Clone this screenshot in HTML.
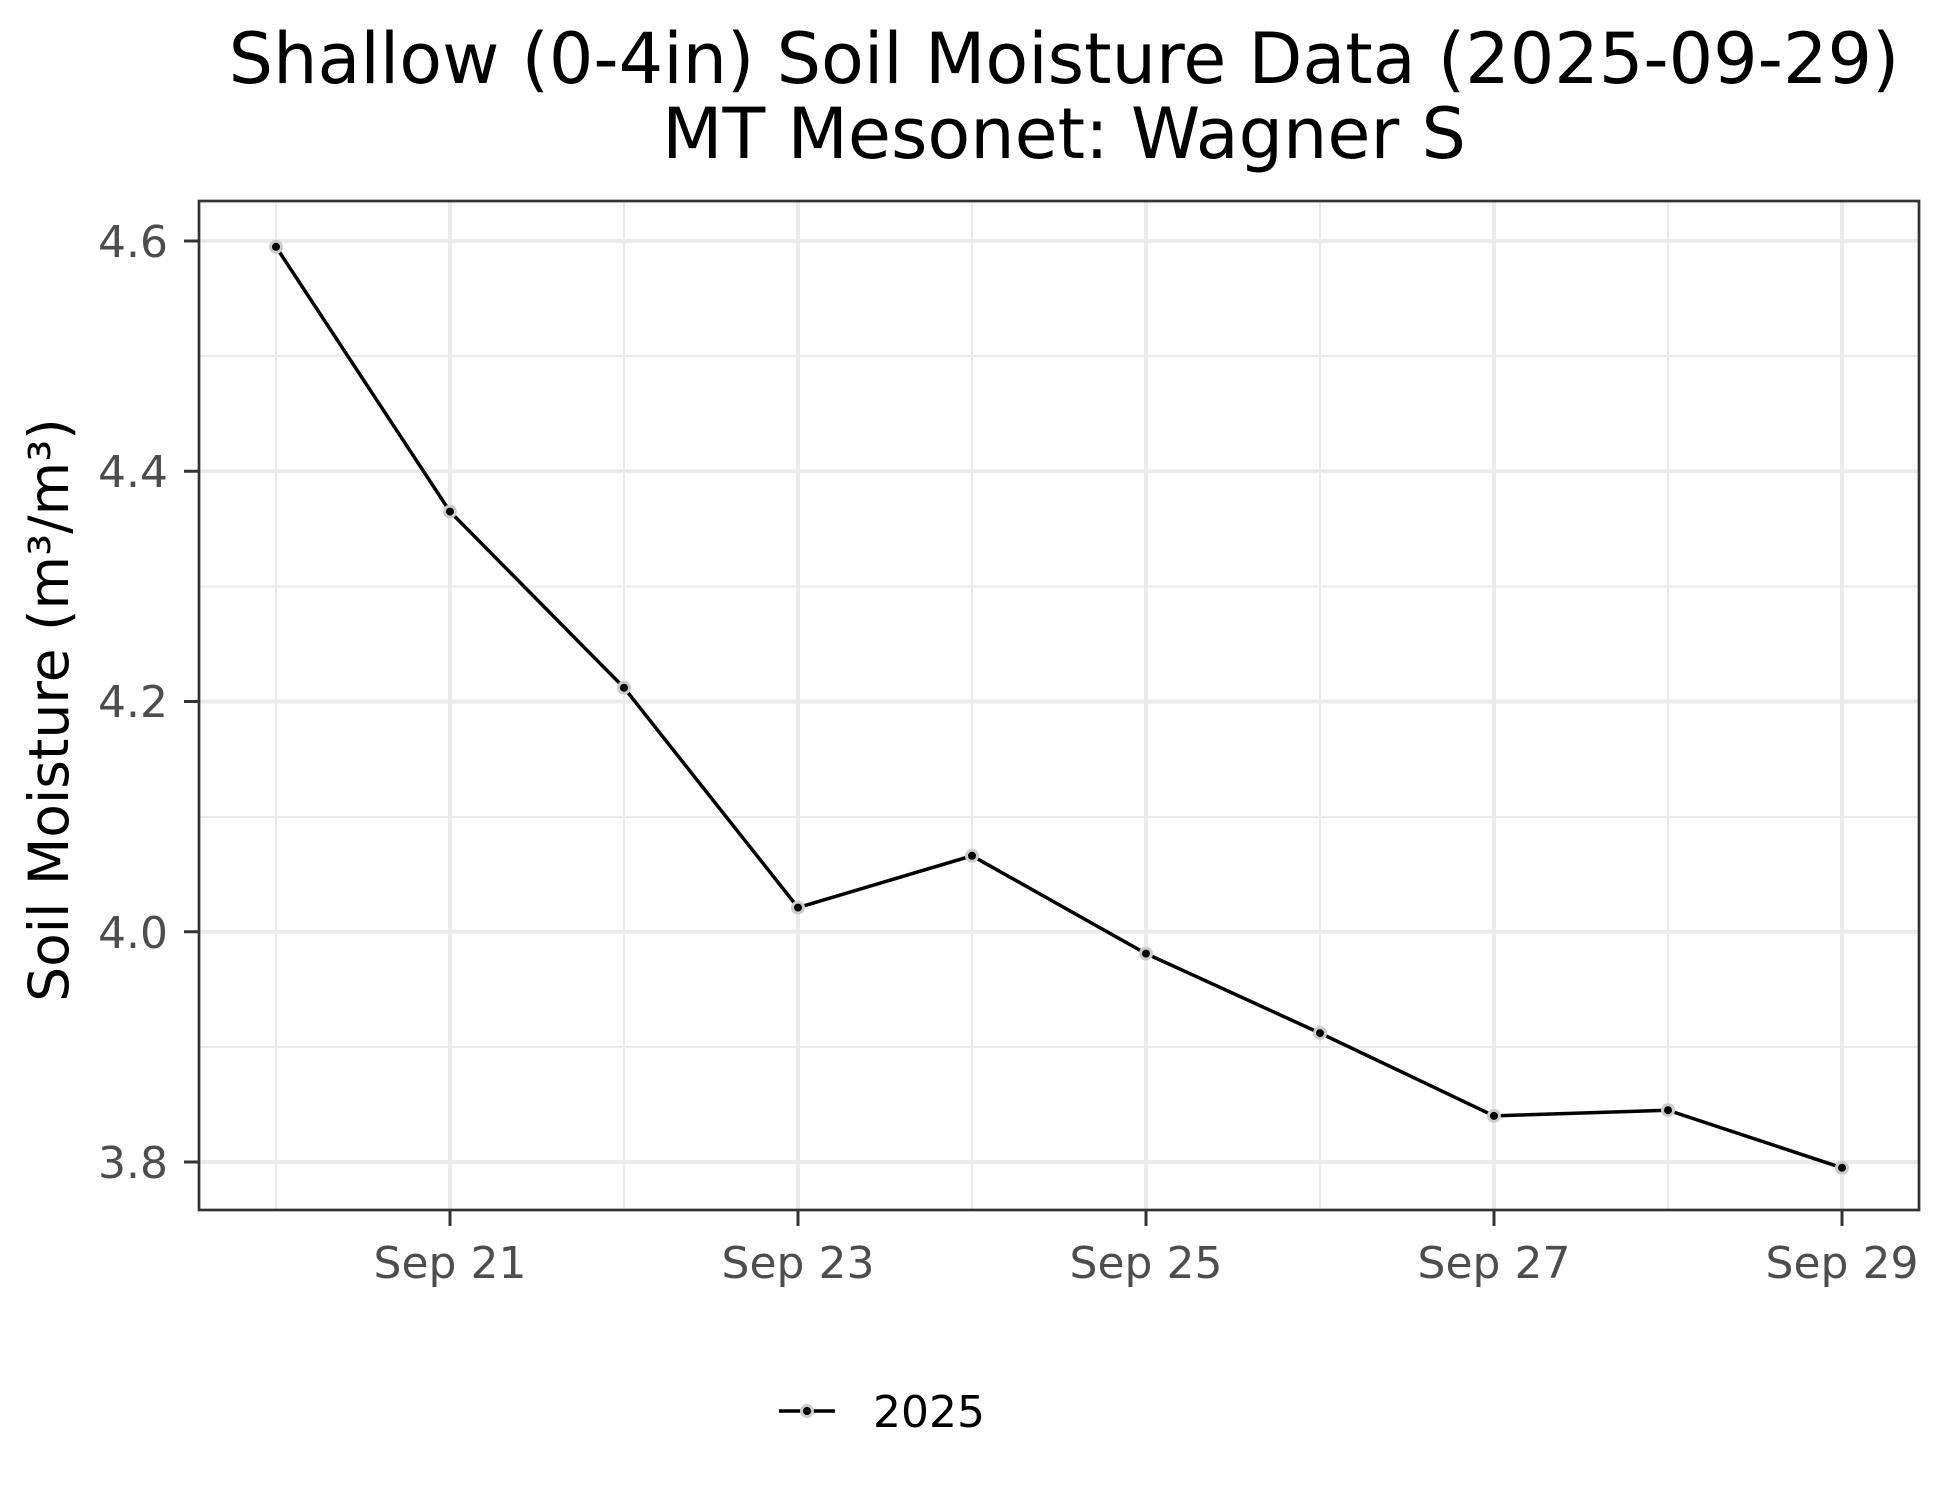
<!DOCTYPE html>
<html><head><meta charset="utf-8"><style>html,body{margin:0;padding:0;background:#fff;}svg{display:block;}</style></head>
<body>
<svg width="1950" height="1500" viewBox="0 0 1950 1500" xmlns="http://www.w3.org/2000/svg" font-family="'DejaVu Sans','Liberation Sans',sans-serif">
<rect width="1950" height="1500" fill="#fff"/>
<text x="1064" y="83" font-size="70" text-anchor="middle" fill="#000">Shallow (0-4in) Soil Moisture Data (2025-09-29)</text>
<text x="1064" y="158" font-size="70" text-anchor="middle" fill="#000">MT Mesonet: Wagner S</text>
<g stroke="#ebebeb" stroke-width="2">
<line x1="199" x2="1919" y1="356" y2="356"/><line x1="199" x2="1919" y1="586.5" y2="586.5"/><line x1="199" x2="1919" y1="817" y2="817"/><line x1="199" x2="1919" y1="1047" y2="1047"/>
<line y1="201" y2="1210" x1="276" x2="276"/><line y1="201" y2="1210" x1="624" x2="624"/><line y1="201" y2="1210" x1="972" x2="972"/><line y1="201" y2="1210" x1="1320" x2="1320"/><line y1="201" y2="1210" x1="1668" x2="1668"/>
</g>
<g stroke="#ebebeb" stroke-width="4">
<line x1="199" x2="1919" y1="241" y2="241"/><line x1="199" x2="1919" y1="471.25" y2="471.25"/><line x1="199" x2="1919" y1="701.5" y2="701.5"/><line x1="199" x2="1919" y1="931.75" y2="931.75"/><line x1="199" x2="1919" y1="1162" y2="1162"/>
<line y1="201" y2="1210" x1="450" x2="450"/><line y1="201" y2="1210" x1="798" x2="798"/><line y1="201" y2="1210" x1="1146" x2="1146"/><line y1="201" y2="1210" x1="1494" x2="1494"/><line y1="201" y2="1210" x1="1842" x2="1842"/>
</g>
<rect x="199" y="201" width="1720" height="1009" fill="none" stroke="#333" stroke-width="2.7"/>
<g stroke="#333" stroke-width="3">
<line x1="184" x2="199" y1="241" y2="241"/><line x1="184" x2="199" y1="471.25" y2="471.25"/><line x1="184" x2="199" y1="701.5" y2="701.5"/><line x1="184" x2="199" y1="931.75" y2="931.75"/><line x1="184" x2="199" y1="1162" y2="1162"/>
<line y1="1210" y2="1226" x1="450" x2="450"/><line y1="1210" y2="1226" x1="798" x2="798"/><line y1="1210" y2="1226" x1="1146" x2="1146"/><line y1="1210" y2="1226" x1="1494" x2="1494"/><line y1="1210" y2="1226" x1="1842" x2="1842"/>
</g>
<g font-size="44" fill="#4d4d4d" text-anchor="end">
<text x="168" y="257">4.6</text><text x="168" y="487">4.4</text><text x="168" y="717">4.2</text><text x="168" y="948">4.0</text><text x="168" y="1178">3.8</text>
</g>
<g font-size="44" fill="#4d4d4d" text-anchor="middle">
<text x="450" y="1278">Sep 21</text><text x="798" y="1278">Sep 23</text><text x="1146" y="1278">Sep 25</text><text x="1494" y="1278">Sep 27</text><text x="1842" y="1278">Sep 29</text>
</g>
<text transform="translate(68,710) rotate(-90)" font-size="55" text-anchor="middle" fill="#000">Soil Moisture (m³/m³)</text>
<polyline fill="none" stroke="#000" stroke-width="3.5" points="276,246.8 450,511.6 624,687.7 798,907.6 972,855.8 1146,953.6 1320,1033.1 1494,1115.9 1668,1110.2 1842,1167.8"/>
<g fill="#000" stroke="#ccc" stroke-width="3">
<circle cx="276" cy="246.8" r="5.5"/><circle cx="450" cy="511.6" r="5.5"/><circle cx="624" cy="687.7" r="5.5"/><circle cx="798" cy="907.6" r="5.5"/><circle cx="972" cy="855.8" r="5.5"/><circle cx="1146" cy="953.6" r="5.5"/><circle cx="1320" cy="1033.1" r="5.5"/><circle cx="1494" cy="1115.9" r="5.5"/><circle cx="1668" cy="1110.2" r="5.5"/><circle cx="1842" cy="1167.8" r="5.5"/>
</g>
<line x1="779" x2="835" y1="1411" y2="1411" stroke="#000" stroke-width="3.5"/>
<circle cx="807" cy="1411" r="5.5" fill="#000" stroke="#ccc" stroke-width="3"/>
<text x="873" y="1427" font-size="44" fill="#000">2025</text>
</svg>
</body></html>
